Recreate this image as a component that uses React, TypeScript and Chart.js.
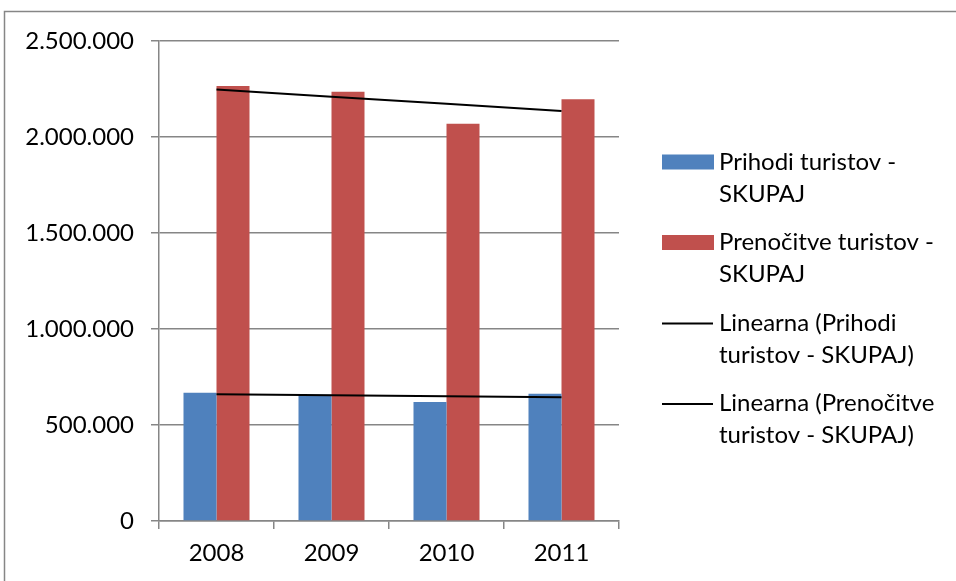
import React, { useEffect, useRef } from "react";
import { Chart, registerables } from "chart.js";

Chart.register(...registerables);

const years = ["2008", "2009", "2010", "2011"];
const prihodi = [668000, 658000, 620000, 663000];
const prenocitve = [2265000, 2236000, 2069000, 2196000];
const seriesLabels = [
  "Prihodi turistov - SKUPAJ",
  "Prenočitve turistov - SKUPAJ",
  "Linearna (Prihodi turistov - SKUPAJ)",
  "Linearna (Prenočitve turistov - SKUPAJ)",
];
const legendLines = [
  ["Prihodi turistov -", "SKUPAJ"],
  ["Prenočitve turistov -", "SKUPAJ"],
  ["Linearna (Prihodi", "turistov - SKUPAJ)"],
  ["Linearna (Prenočitve", "turistov - SKUPAJ)"],
];
const yMax = 2500000;
const yStep = 500000;

const BLUE = "#4F81BD";
const RED = "#C0504D";
const GRAY = "#868686";
const FONT = "Lato";

function linearTrend(values: number[]): number[] {
  const n = values.length;
  const xs = values.map((_, i) => i);
  const mx = xs.reduce((a, b) => a + b, 0) / n;
  const my = values.reduce((a, b) => a + b, 0) / n;
  let num = 0;
  let den = 0;
  for (let i = 0; i < n; i++) {
    num += (xs[i] - mx) * (values[i] - my);
    den += (xs[i] - mx) * (xs[i] - mx);
  }
  const slope = num / den;
  return xs.map((x) => my + slope * (x - mx));
}

function fmt(v: number): string {
  return String(Math.round(v)).replace(/\B(?=(\d{3})+(?!\d))/g, ".");
}

const framePlugin = {
  id: "frameAndLegend",
  beforeDraw(chart: any) {
    const ctx = chart.ctx;
    ctx.save();
    ctx.fillStyle = "#ffffff";
    ctx.fillRect(0, 0, chart.width, chart.height);
    ctx.strokeStyle = GRAY;
    ctx.lineWidth = 1.5;
    ctx.strokeRect(4.5, 11.5, chart.width + 50, chart.height + 50);
    ctx.restore();
  },
  afterDraw(chart: any) {
    const ctx = chart.ctx;
    ctx.save();
    ctx.font = `24px ${FONT}`;
    ctx.textBaseline = "middle";
    ctx.textAlign = "left";
    const ds = chart.data.datasets;
    legendLines.forEach((lines, i) => {
      const y0 = 162 + 80.5 * i;
      const d = ds[i];
      if (d.type === "line") {
        ctx.strokeStyle = d.borderColor;
        ctx.lineWidth = 2;
        ctx.beginPath();
        ctx.moveTo(662, y0 + 0.5);
        ctx.lineTo(713, y0 + 0.5);
        ctx.stroke();
      } else {
        ctx.fillStyle = d.backgroundColor;
        ctx.fillRect(662, y0 - 7.5, 52, 15);
      }
      ctx.fillStyle = "#000000";
      lines.forEach((t, j) => {
        ctx.fillText(t, 719, y0 + j * 32);
      });
    });
    ctx.restore();
  },
};

export default function App() {
  const ref = useRef<HTMLCanvasElement | null>(null);
  useEffect(() => {
    document.body.style.margin = "0";
    const canvas = ref.current!;
    const chart = new Chart(canvas, {
      type: "bar",
      data: {
        labels: years,
        datasets: [
          {
            type: "bar",
            label: seriesLabels[0],
            data: prihodi,
            backgroundColor: BLUE,
            borderWidth: 0,
            order: 2,
          },
          {
            type: "bar",
            label: seriesLabels[1],
            data: prenocitve,
            backgroundColor: RED,
            borderWidth: 0,
            order: 2,
          },
          {
            type: "line",
            label: seriesLabels[2],
            data: linearTrend(prihodi),
            borderColor: "#000000",
            borderWidth: 2,
            pointRadius: 0,
            fill: false,
            order: 1,
          } as any,
          {
            type: "line",
            label: seriesLabels[3],
            data: linearTrend(prenocitve),
            borderColor: "#000000",
            borderWidth: 2,
            pointRadius: 0,
            fill: false,
            order: 1,
          } as any,
        ],
      },
      options: {
        responsive: false,
        animation: false,
        layout: { padding: { left: 4, top: 41, right: 337, bottom: 0 } },
        plugins: {
          legend: { display: false },
          tooltip: { enabled: false },
          title: { display: false },
        },
        datasets: {
          bar: { categoryPercentage: 0.574, barPercentage: 1 },
        },
        scales: {
          x: {
            offset: true,
            grid: {
              display: true,
              drawOnChartArea: false,
              drawTicks: true,
              tickLength: 8,
              color: GRAY,
              lineWidth: 1.5,
              offset: true,
            },
            border: { display: true, color: GRAY, width: 1.5 },
            ticks: {
              color: "#000000",
              font: { family: FONT, size: 24 },
              padding: 10,
              maxRotation: 0,
            },
            afterFit: (s: any) => {
              s.height = 60;
            },
          },
          y: {
            min: 0,
            max: yMax,
            grid: {
              color: GRAY,
              lineWidth: 1.5,
              drawTicks: true,
              tickLength: 8,
            },
            border: { display: true, color: GRAY, width: 1.5 },
            ticks: {
              stepSize: yStep,
              color: "#000000",
              font: { family: FONT, size: 24 },
              padding: 17,
              callback: (v: any) => fmt(Number(v)),
            },
            afterFit: (s: any) => {
              s.width = 155;
            },
          },
        },
      },
      plugins: [framePlugin],
    });
    return () => chart.destroy();
  }, []);
  return (
    <div style={{ width: 956, height: 581, overflow: "hidden", background: "#fff" }}>
      <canvas ref={ref} width={956} height={581} style={{ display: "block" }} />
    </div>
  );
}
